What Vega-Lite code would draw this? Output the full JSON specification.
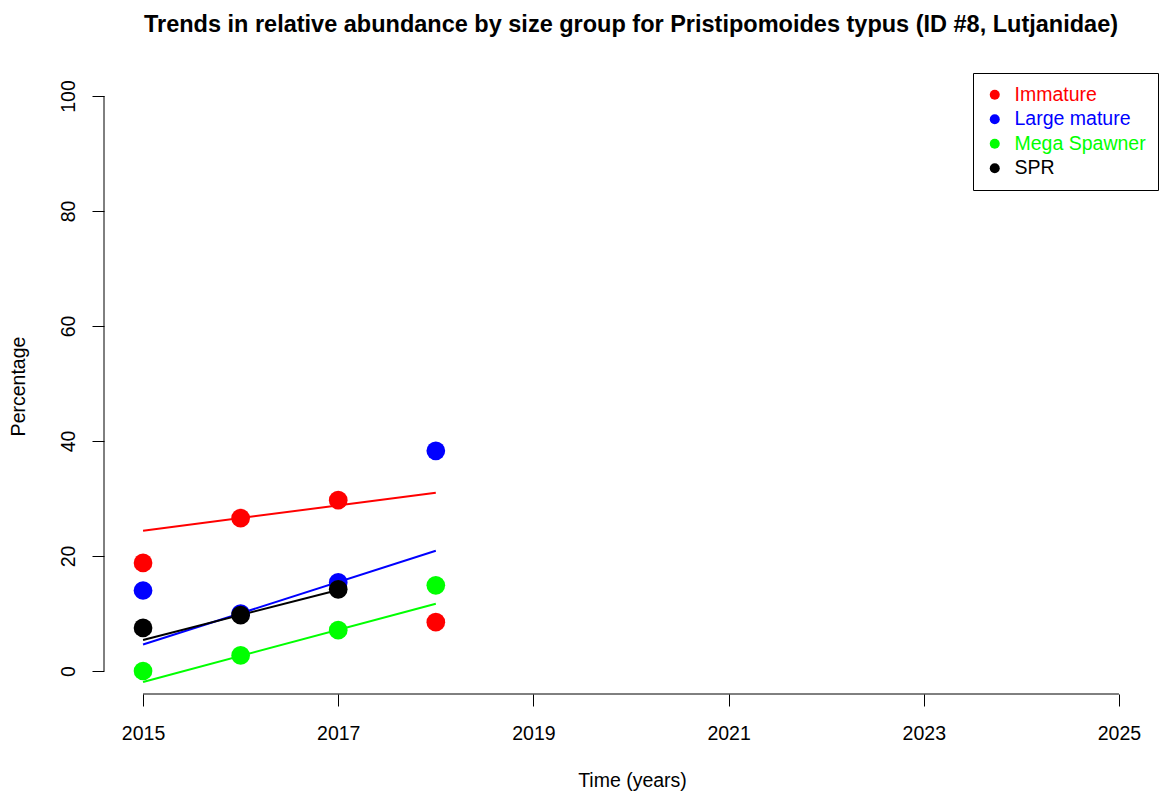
{
  "$schema": "https://vega.github.io/schema/vega-lite/v6.json",
  "width": 1054,
  "height": 621,
  "autosize": {"type": "none"},
  "padding": {"left": 104, "top": 73, "right": 5, "bottom": 101},
  "background": "white",
  "title": {
    "text": "Trends in relative abundance by size group for Pristipomoides typus (ID #8, Lutjanidae)",
    "anchor": "middle",
    "frame": "group",
    "baseline": "alphabetic",
    "offset": 17,
    "font": "Liberation Sans",
    "fontSize": 23.5,
    "fontWeight": "bold",
    "color": "black"
  },
  "datasets": {
    "points": [
      {"group": "Immature", "year": 2015, "value": 18.8},
      {"group": "Immature", "year": 2016, "value": 26.6},
      {"group": "Immature", "year": 2017, "value": 29.7},
      {"group": "Immature", "year": 2018, "value": 8.5},
      {"group": "Large mature", "year": 2015, "value": 14.0},
      {"group": "Large mature", "year": 2016, "value": 10.0},
      {"group": "Large mature", "year": 2017, "value": 15.4},
      {"group": "Large mature", "year": 2018, "value": 38.3},
      {"group": "Mega Spawner", "year": 2015, "value": 0.0},
      {"group": "Mega Spawner", "year": 2016, "value": 2.7},
      {"group": "Mega Spawner", "year": 2017, "value": 7.1},
      {"group": "Mega Spawner", "year": 2018, "value": 14.9},
      {"group": "SPR", "year": 2015, "value": 7.5},
      {"group": "SPR", "year": 2016, "value": 9.7},
      {"group": "SPR", "year": 2017, "value": 14.2}
    ],
    "trend": [
      {"group": "Immature", "year": 2015, "value": 24.4},
      {"group": "Immature", "year": 2018, "value": 31.0},
      {"group": "Large mature", "year": 2015, "value": 4.6},
      {"group": "Large mature", "year": 2018, "value": 20.9},
      {"group": "Mega Spawner", "year": 2015, "value": -1.9},
      {"group": "Mega Spawner", "year": 2018, "value": 11.7},
      {"group": "SPR", "year": 2015, "value": 5.4},
      {"group": "SPR", "year": 2017, "value": 14.1}
    ]
  },
  "layer": [
    {
      "data": {"name": "trend"},
      "mark": {"type": "line", "strokeWidth": 2},
      "encoding": {
        "x": {"field": "year", "type": "quantitative", "scale": {"domain": [2014.6, 2025.4], "nice": false, "zero": false}},
        "y": {"field": "value", "type": "quantitative", "scale": {"domain": [-4, 104], "nice": false, "zero": false}},
        "color": {
          "field": "group",
          "type": "nominal",
          "scale": {"domain": ["Immature", "Large mature", "Mega Spawner", "SPR"], "range": ["#ff0000", "#0000ff", "#00ff00", "#000000"]},
          "legend": {
            "title": null,
            "orient": "top-right",
            "offset": 0,
            "padding": 12,
            "strokeColor": "black",
            "fillColor": "white",
            "symbolType": "circle",
            "symbolSize": 100,
            "symbolStrokeWidth": 0,
            "labelOffset": 10,
            "rowPadding": 3.5,
            "labelFont": "Liberation Sans",
            "labelFontSize": 19.5,
            "labelLimit": 0,
            "labelColor": {"expr": "scale('color', datum.value)"}
          }
        }
      }
    },
    {
      "data": {"name": "points"},
      "mark": {"type": "point", "shape": "circle", "filled": true, "opacity": 1, "size": 350, "strokeWidth": 0},
      "encoding": {
        "x": {
          "field": "year",
          "type": "quantitative",
          "scale": {"domain": [2014.6, 2025.4], "nice": false, "zero": false},
          "axis": {
            "title": "Time (years)",
            "values": [2015, 2017, 2019, 2021, 2023, 2025],
            "format": "d",
            "labelPadding": 33,
            "labelBaseline": "alphabetic",
            "titleX": 528,
            "titleY": 92,
            "titleAlign": "center",
            "titleBaseline": "alphabetic"
          }
        },
        "y": {
          "field": "value",
          "type": "quantitative",
          "scale": {"domain": [-4, 104], "nice": false, "zero": false},
          "axis": {
            "title": "Percentage",
            "values": [0, 20, 40, 60, 80, 100],
            "labelAngle": 270,
            "labelAlign": "center",
            "labelBaseline": "alphabetic",
            "labelPadding": 18,
            "titleAngle": 270,
            "titleX": -80,
            "titleY": 313,
            "titleAlign": "center",
            "titleBaseline": "alphabetic"
          }
        },
        "color": {
          "field": "group",
          "type": "nominal",
          "scale": {"domain": ["Immature", "Large mature", "Mega Spawner", "SPR"], "range": ["#ff0000", "#0000ff", "#00ff00", "#000000"]},
          "legend": {
            "title": null,
            "orient": "top-right",
            "offset": 0,
            "padding": 12,
            "strokeColor": "black",
            "fillColor": "white",
            "symbolType": "circle",
            "symbolSize": 100,
            "symbolStrokeWidth": 0,
            "labelOffset": 10,
            "rowPadding": 3.5,
            "labelFont": "Liberation Sans",
            "labelFontSize": 19.5,
            "labelLimit": 0,
            "labelColor": {"expr": "scale('color', datum.value)"}
          }
        }
      }
    },
    {
      "data": {"values": [{}]},
      "mark": {"type": "rule", "color": "black", "strokeWidth": 1},
      "encoding": {
        "x": {"datum": 2015, "type": "quantitative"},
        "x2": {"datum": 2025},
        "y": {"datum": -4, "type": "quantitative"}
      }
    },
    {
      "data": {"values": [{}]},
      "mark": {"type": "rule", "color": "black", "strokeWidth": 1},
      "encoding": {
        "x": {"datum": 2014.6, "type": "quantitative"},
        "y": {"datum": 0, "type": "quantitative"},
        "y2": {"datum": 100}
      }
    }
  ],
  "config": {
    "view": {"stroke": null},
    "font": "Liberation Sans",
    "axis": {
      "domain": false,
      "grid": false,
      "ticks": true,
      "tickColor": "black",
      "tickWidth": 1,
      "tickSize": 12,
      "labelFont": "Liberation Sans",
      "labelFontSize": 19.5,
      "labelColor": "black",
      "labelOverlap": false,
      "labelFlush": false,
      "titleFont": "Liberation Sans",
      "titleFontSize": 19.5,
      "titleFontWeight": "normal",
      "titleColor": "black"
    }
  }
}
